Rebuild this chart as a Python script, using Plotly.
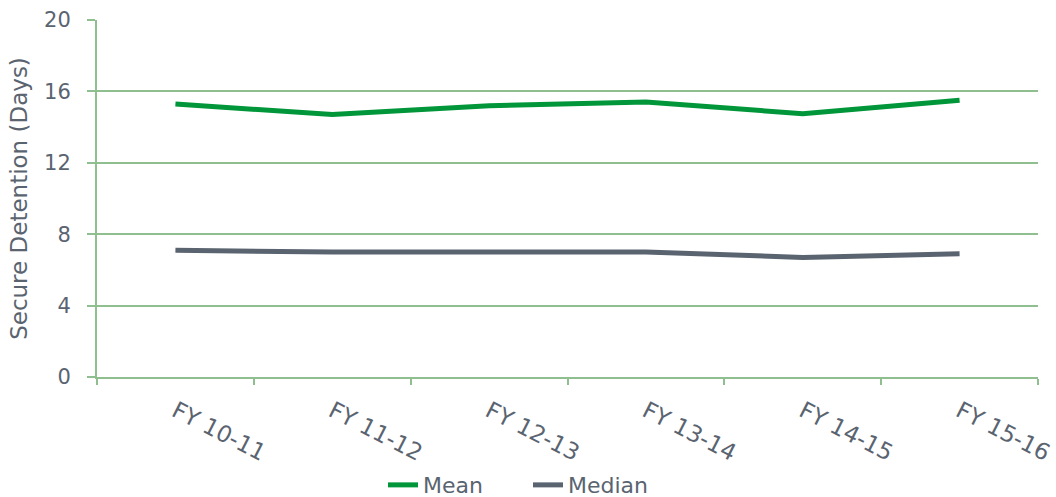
import plotly.graph_objects as go

categories = ["FY 10-11", "FY 11-12", "FY 12-13", "FY 13-14", "FY 14-15", "FY 15-16"]
mean_days = [15.3, 14.7, 15.2, 15.4, 14.75, 15.5]
median_days = [7.1, 7.0, 7.0, 7.0, 6.7, 6.9]
y_ticks = [0, 4, 8, 12, 16, 20]

text_color = "#5a6470"
grid_color = "#8fbf8f"
font_family = "DejaVu Sans"

fig = go.Figure()
fig.add_trace(go.Scatter(x=categories, y=mean_days, mode="lines", name="Mean",
                         line=dict(color="#009639", width=5)))
fig.add_trace(go.Scatter(x=categories, y=median_days, mode="lines", name="Median",
                         line=dict(color="#5a6470", width=5)))

fig.update_layout(
    width=1056, height=497,
    margin=dict(l=97, r=18, t=20, b=120, autoexpand=False),
    paper_bgcolor="white", plot_bgcolor="white",
    font=dict(family=font_family, size=21, color=text_color),
    showlegend=True,
    legend=dict(orientation="h", xref="container", yref="container",
                x=0.5, xanchor="center", y=0.024, yanchor="middle",
                entrywidth=100, entrywidthmode="pixels",
                font=dict(size=22, color=text_color), tracegroupgap=0),
)
fig.update_xaxes(
    type="category", tickangle=27, tickson="boundaries", automargin=False,
    showline=True, linecolor=grid_color, linewidth=2,
    ticks="outside", ticklen=6, tickcolor=grid_color, tickwidth=2,
    showgrid=False, range=[-0.5, 5.5], ticklabelstandoff=10,
    tickfont=dict(size=23, color=text_color),
)
fig.update_yaxes(
    range=[0, 20], tickvals=y_ticks, automargin=False,
    showgrid=True, gridcolor=grid_color, gridwidth=2,
    showline=True, linecolor=grid_color, linewidth=2,
    ticks="outside", ticklen=8, tickcolor=grid_color, tickwidth=2,
    zeroline=False, ticklabelstandoff=12,
    tickfont=dict(size=21, color=text_color),
    title=dict(text="Secure Detention (Days)", font=dict(size=23, color=text_color), standoff=10),
)
fig.write_html("out.html")
